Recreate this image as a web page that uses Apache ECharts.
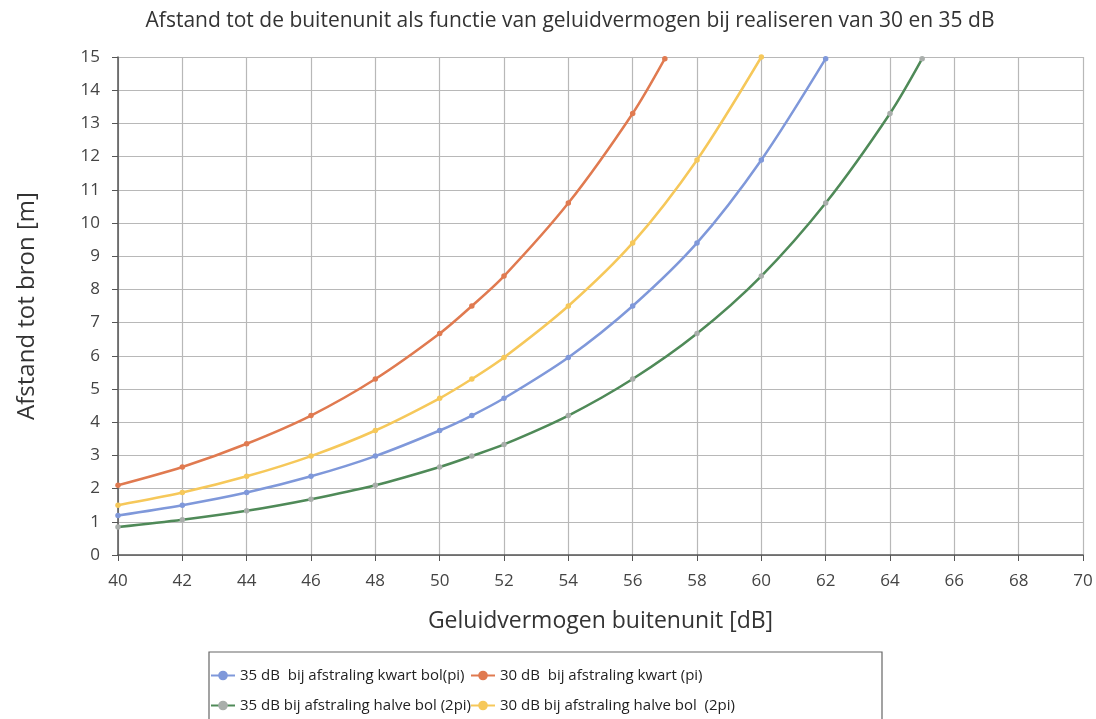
<!DOCTYPE html>
<html>
<head>
<meta charset="utf-8">
<script src="https://cdn.jsdelivr.net/npm/echarts@6/dist/echarts.min.js"></script>
<style>
html,body{margin:0;padding:0;background:#fff;}
#c{width:1096px;height:719px;}
</style>
</head>
<body>
<div id="c"></div>
<script>
const titleText = 'Afstand tot de buitenunit als functie van geluidvermogen bij realiseren van 30 en 35 dB';
const xName = 'Geluidvermogen buitenunit [dB]';
const yName = 'Afstand tot bron [m]';
const seriesNames = [
  '35 dB  bij afstraling kwart bol(pi)',
  '30 dB  bij afstraling kwart (pi)',
  '35 dB bij afstraling halve bol (2pi)',
  '30 dB bij afstraling halve bol  (2pi)'
];
const xBlue   = [40, 42, 44, 46, 48, 50, 51, 52, 54, 56, 58, 60, 62];
const blue    = [1.19, 1.5, 1.88, 2.37, 2.98, 3.75, 4.2, 4.72, 5.95, 7.5, 9.4, 11.9, 14.95];
const xOrange = [40, 42, 44, 46, 48, 50, 51, 52, 54, 56, 57];
const orange  = [2.1, 2.65, 3.35, 4.2, 5.3, 6.67, 7.5, 8.4, 10.6, 13.3, 14.95];
const xGreen  = [40, 42, 44, 46, 48, 50, 51, 52, 54, 56, 58, 60, 62, 64, 65];
const green   = [0.84, 1.06, 1.33, 1.68, 2.1, 2.65, 2.98, 3.33, 4.2, 5.3, 6.67, 8.4, 10.6, 13.3, 14.95];
const xYellow = [40, 42, 44, 46, 48, 50, 51, 52, 54, 56, 58, 60];
const yellow  = [1.5, 1.88, 2.37, 2.98, 3.75, 4.72, 5.3, 5.95, 7.5, 9.4, 11.9, 15.0];

const zip = (xs, ys) => xs.map((x, i) => [x, ys[i]]);
const FONT = 'Open Sans';

const chart = echarts.init(document.getElementById('c'));

function mkSeries(name, data, color, markerColor) {
  return {
    name: name,
    type: 'line',
    data: data,
    smooth: 0.3,
    symbol: 'circle',
    symbolSize: 5.5,
    showSymbol: true,
    lineStyle: {color: color, width: 2.5},
    itemStyle: {color: markerColor || color},
    clip: true
  };
}

chart.setOption({
  animation: false,
  backgroundColor: '#ffffff',
  textStyle: {fontFamily: FONT},
  title: {
    text: titleText,
    left: 565, top: 6, textAlign: 'center',
    textStyle: {fontFamily: FONT, fontSize: 21, fontWeight: 'normal', color: '#333'}
  },
  grid: {left: 118, right: 13, top: 57, bottom: 164},
  xAxis: {
    type: 'value', min: 40, max: 70, interval: 2,
    name: xName, nameLocation: 'middle', nameGap: 55,
    nameTextStyle: {fontFamily: FONT, fontSize: 23, color: '#333'},
    axisLine: {show: true, lineStyle: {color: '#555', width: 1.5}},
    axisTick: {show: true, length: 6, lineStyle: {color: '#555'}},
    axisLabel: {fontFamily: FONT, fontSize: 17, color: '#444', margin: 18},
    splitLine: {show: true, lineStyle: {color: '#b8b8b8', width: 1.2}}
  },
  yAxis: {
    type: 'value', min: 0, max: 15, interval: 1,
    name: yName, nameLocation: 'middle', nameGap: 79, nameRotate: 90,
    nameTextStyle: {fontFamily: FONT, fontSize: 24, color: '#333'},
    axisLine: {show: true, lineStyle: {color: '#555', width: 1.5}},
    axisTick: {show: true, length: 6, lineStyle: {color: '#555'}},
    axisLabel: {fontFamily: FONT, fontSize: 17, color: '#444', margin: 18},
    splitLine: {show: true, lineStyle: {color: '#b8b8b8', width: 1.2}}
  },
  legend: [
    {
      data: [seriesNames[0], seriesNames[2]],
      orient: 'vertical', left: 210, top: 668, padding: 0,
      itemWidth: 24, itemHeight: 12, itemGap: 15,
      textStyle: {fontFamily: FONT, fontSize: 15, color: '#222'}
    },
    {
      data: [seriesNames[1], seriesNames[3]],
      orient: 'vertical', left: 470, top: 668, padding: 0,
      itemWidth: 24, itemHeight: 12, itemGap: 15,
      textStyle: {fontFamily: FONT, fontSize: 15, color: '#222'}
    }
  ],
  graphic: [{
    type: 'rect',
    shape: {x: 209, y: 652, width: 673, height: 70},
    style: {fill: 'none', stroke: '#666', lineWidth: 1.2},
    silent: true
  }],
  series: [
    mkSeries(seriesNames[0], zip(xBlue, blue), '#7f98da'),
    mkSeries(seriesNames[1], zip(xOrange, orange), '#e07a50'),
    mkSeries(seriesNames[2], zip(xGreen, green), '#4f8a58', '#a9aeab'),
    mkSeries(seriesNames[3], zip(xYellow, yellow), '#f6c85a')
  ]
});
</script>
</body>
</html>
